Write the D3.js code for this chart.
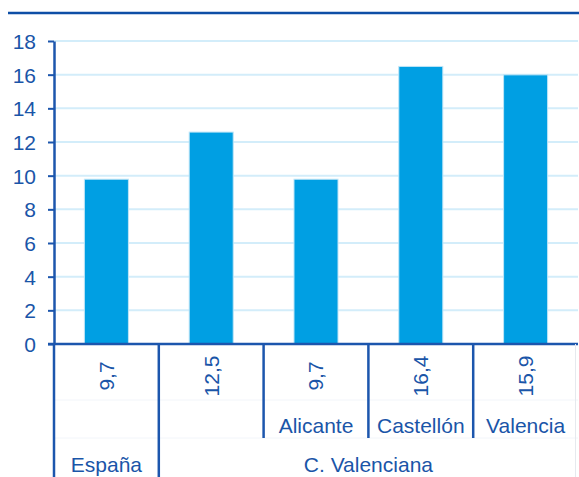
<!DOCTYPE html>
<html>
<head>
<meta charset="utf-8">
<script src="https://cdn.jsdelivr.net/npm/d3@7"></script>
<style>
  body { margin: 0; background: #fff; }
  svg { display: block; font-family: "Liberation Sans", Arial, sans-serif; }
  .lbl { fill: #1a55a8; font-size: 21px; }
</style>
</head>
<body>
<div id="chart"></div>
<script>
// Chart values
const keys = ["esp", "cv", "ali", "cas", "val"];
const values = [9.7, 12.5, 9.7, 16.4, 15.9];
const provinces = ["", "", "Alicante", "Castellón", "Valencia"];
const groups = [{ name: "España", from: 0, to: 0 }, { name: "C. Valenciana", from: 1, to: 4 }];
const yTicks = [0, 2, 4, 6, 8, 10, 12, 14, 16, 18];

const width = 579, height = 477;
const axisBlue = "#1c56ad";

const svg = d3.select("#chart").append("svg")
    .attr("width", width)
    .attr("height", height);

const x = d3.scaleBand().domain(keys).range([54, 578]);
const y = d3.scaleLinear().domain([0, 18]).range([344, 41]);
const barW = x.bandwidth() * 0.42;

// top rule
svg.append("line")
    .attr("x1", 8).attr("x2", width)
    .attr("y1", 13).attr("y2", 13)
    .attr("stroke", "#0d4ea6").attr("stroke-width", 2.5);

// gridlines
svg.append("g")
    .selectAll("line")
    .data(yTicks.filter(d => d > 0))
    .enter()
    .append("line")
    .attr("x1", 54).attr("x2", 578)
    .attr("y1", d => y(d)).attr("y2", d => y(d))
    .attr("stroke", "#d3edfa").attr("stroke-width", 2);

// bars
svg.append("g")
    .selectAll("rect")
    .data(values)
    .enter()
    .append("rect")
    .attr("x", (d, i) => x(keys[i]) + (x.bandwidth() - barW) / 2)
    .attr("y", d => y(d) - 1.5)
    .attr("width", barW)
    .attr("height", d => y(0) - y(d) + 1.5)
    .attr("fill", "#009fe3")
    .attr("stroke", "#bfe5f7")
    .attr("stroke-width", 1);

// y axis
const yAxis = d3.axisLeft(y).tickValues(yTicks).tickSize(6).tickPadding(12).tickSizeOuter(0);
const gy = svg.append("g")
    .attr("transform", "translate(54,0)")
    .call(yAxis);
gy.attr("font-size", null).attr("font-family", null);
gy.select(".domain").attr("stroke", axisBlue).attr("stroke-width", 2.5);
gy.selectAll(".tick line").attr("stroke", axisBlue).attr("stroke-width", 2);
gy.selectAll(".tick text")
    .attr("class", "lbl")
    .attr("dy", "0.35em");

// baseline
svg.append("line")
    .attr("x1", 48).attr("x2", 578)
    .attr("y1", y(0)).attr("y2", y(0))
    .attr("stroke", axisBlue).attr("stroke-width", 2.5);

// table faint rows
[400, 438].forEach(r => {
    svg.append("line")
        .attr("x1", 54).attr("x2", 578)
        .attr("y1", r).attr("y2", r)
        .attr("stroke", "#f2f5fa").attr("stroke-width", 1);
});
svg.append("line")
    .attr("x1", 575.5).attr("x2", 575.5)
    .attr("y1", 344).attr("y2", height)
    .attr("stroke", "#e6e9ee").attr("stroke-width", 1);

// table dividers
const dividers = [
    { x: x("esp"), y2: height },
    { x: x("cv"), y2: height },
    { x: x("ali"), y2: 438 },
    { x: x("cas"), y2: 438 },
    { x: x("val"), y2: 438 }
];
svg.append("g")
    .selectAll("line")
    .data(dividers)
    .enter()
    .append("line")
    .attr("x1", d => d.x).attr("x2", d => d.x)
    .attr("y1", 344).attr("y2", d => d.y2)
    .attr("stroke", axisBlue).attr("stroke-width", 2.5);

// value labels (rotated)
svg.append("g")
    .selectAll("text")
    .data(values)
    .enter()
    .append("text")
    .attr("class", "lbl")
    .attr("text-anchor", "middle")
    .attr("dy", "0.35em")
    .attr("transform", (d, i) => `translate(${x(keys[i]) + x.bandwidth() / 2},376) rotate(-90)`)
    .text(d => String(d).replace(".", ","));

// province labels
svg.append("g")
    .selectAll("text")
    .data(provinces)
    .enter()
    .append("text")
    .attr("class", "lbl")
    .attr("text-anchor", "middle")
    .attr("x", (d, i) => x(keys[i]) + x.bandwidth() / 2)
    .attr("y", 433)
    .text(d => d);

// group labels
svg.append("g")
    .selectAll("text")
    .data(groups)
    .enter()
    .append("text")
    .attr("class", "lbl")
    .attr("text-anchor", "middle")
    .attr("x", d => (x(keys[d.from]) + x(keys[d.to]) + x.bandwidth()) / 2)
    .attr("y", 472)
    .text(d => d.name);
</script>
</body>
</html>
